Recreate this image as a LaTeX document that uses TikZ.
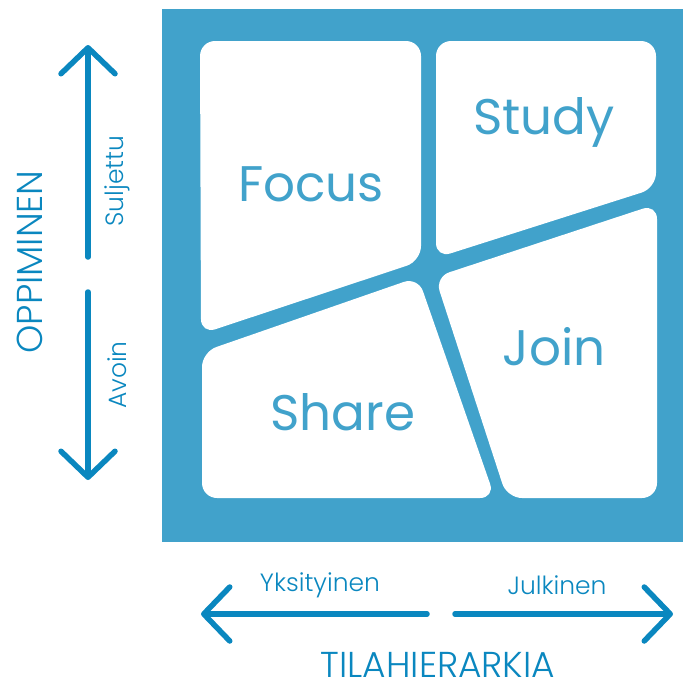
\documentclass[tikz,border=0pt]{standalone}
\usepackage{fontspec}
\setmainfont{Poppins}
\newfontfamily\axisfont{Poppins}[UprightFont={* Light}]
\usetikzlibrary{arrows.meta}
\definecolor{tileblue}{HTML}{41A2CB}
\definecolor{axisblue}{HTML}{0A87BF}
\tikzset{
  cell/.style={fill=white, rounded corners=15pt},
  celllabel/.style={text=tileblue, font=\fontsize{50}{50}\selectfont, inner sep=0pt},
  axis/.style={draw=axisblue, line width=5.5pt, line cap=round},
  axistip/.style={-{Straight Barb[length=26pt, width=54pt, line width=5.5pt, round]}},
  pole/.style={text=axisblue, font=\axisfont\fontsize{25}{25}\selectfont, inner sep=0pt},
  axisname/.style={text=axisblue, font=\axisfont\fontsize{36}{36}\selectfont, inner sep=0pt},
}
\begin{document}
\begin{tikzpicture}[x=1pt, y=-1pt]
  \useasboundingbox (0,0) rectangle (683,686);
  % blue square holding the four zones
  \fill[tileblue] (162,9) rectangle (683,542);
  \fill[cell] (200,41) -- (421,41) -- (421,261) -- (201,334) -- cycle;
  \fill[cell] (436,41) -- (656,41) -- (656,188) -- (436,258) -- cycle;
  \fill[cell] (435,277) -- (657,204) -- (657,498) -- (507,498) -- cycle;
  \fill[cell] (202,352) -- (418,277) -- (495,498) -- (202,498) -- cycle;
  \node[celllabel] (focus) at (311,184) {Focus};
  \node[celllabel] (study) at (544,122) {Study};
  \node[celllabel] (join)  at (554,347) {Join};
  \node[celllabel] (share) at (343,412) {Share};

  % vertical axis: learning
  \coordinate (vtop) at (88,45);
  \coordinate (vtopend) at (88,257);
  \coordinate (vbotstart) at (88,292);
  \coordinate (vbot) at (88,480);
  \draw[axis, axistip] (vtopend) -- (vtop);
  \draw[axis, axistip] (vbotstart) -- (vbot);
  \node[pole, rotate=90] (closed) at (117,181) {Suljettu};
  \node[pole, rotate=90] (open) at (117,375) {Avoin};
  \node[axisname, rotate=90] (learning) at (30,262) {OPPIMINEN};

  % horizontal axis: spatial hierarchy
  \coordinate (hleft) at (201,614);
  \coordinate (hleftend) at (427,614);
  \coordinate (hrightstart) at (455,614);
  \coordinate (hright) at (673,614);
  \draw[axis, axistip] (hleftend) -- (hleft);
  \draw[axis, axistip] (hrightstart) -- (hright);
  \node[pole] (private) at (320,585) {Yksityinen};
  \node[pole] (public) at (557,585) {Julkinen};
  \node[axisname] (hierarchy) at (438,665) {TILAHIERARKIA};
\end{tikzpicture}
\end{document}
